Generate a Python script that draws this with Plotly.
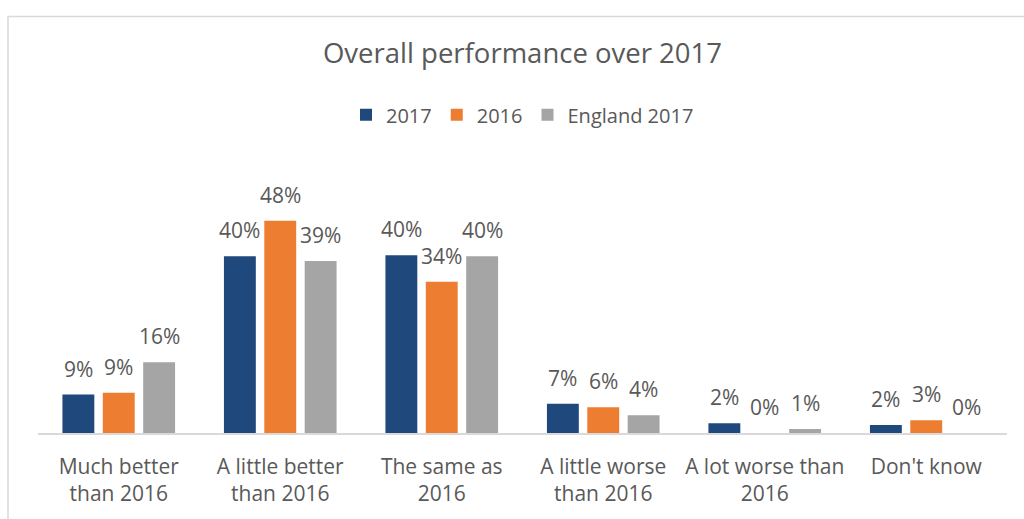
import plotly.graph_objects as go

categories = ["Much better<br>than 2016", "A little better<br>than 2016", "The same as<br>2016",
              "A little worse<br>than 2016", "A lot worse than<br>2016", "Don't know"]
series_names = ["2017", "2016", "England 2017"]
values_2017 = [8.7, 40.0, 40.2, 6.6, 2.2, 1.8]
values_2016 = [9.1, 48.0, 34.2, 5.8, 0.0, 2.9]
values_england = [16.0, 38.9, 40.0, 4.0, 0.9, 0.0]
colors = ["#1F497D", "#ED7D31", "#A5A5A5"]

FONT = "Open Sans"
TXT = "#595959"

all_series = [values_2017, values_2016, values_england]
fig = go.Figure()
for name, vals, col in zip(series_names, all_series, colors):
    fig.add_trace(go.Bar(name=name, x=list(range(len(categories))), y=vals,
                         marker=dict(color=col, line=dict(width=0))))

offsets = [-0.25, 0.0, 0.25]
annotations = []
for vals, off in zip(all_series, offsets):
    for i, v in enumerate(vals):
        annotations.append(dict(x=i + off, y=v, xref="x", yref="y", text=f"{round(v)}%",
                                showarrow=False, yanchor="bottom", yshift=10,
                                font=dict(family=FONT, size=21, color=TXT)))

fig.update_layout(
    width=1024, height=519,
    margin=dict(l=38, r=17, t=212, b=82),
    paper_bgcolor="white", plot_bgcolor="white",
    barmode="group", bargap=0.25, bargroupgap=0.21,
    font=dict(family=FONT, color=TXT),
    title=dict(text="Overall performance over 2017", x=0.5, xref="paper", xanchor="center",
               y=1 - 53 / 519, yref="container", yanchor="middle",
               font=dict(family=FONT, size=27.5, color=TXT)),
    legend=dict(orientation="h", x=0.5, xanchor="center", y=(437 - 113) / 225, yref="paper",
                yanchor="middle", font=dict(family=FONT, size=20, color=TXT),
                itemclick=False, traceorder="normal"),
    annotations=annotations,
    shapes=[dict(type="rect", xref="paper", yref="paper",
                 x0=(8 - 38) / 969, x1=1.2, y0=-1.0, y1=(437 - 13) / 225,
                 line=dict(color="#D9D9D9", width=1.5), layer="below")],
    xaxis=dict(tickmode="array", tickvals=list(range(len(categories))), ticktext=categories,
               range=[-0.5, len(categories) - 0.5], showline=True, linecolor="#D9D9D9",
               linewidth=1.5, showgrid=False, zeroline=False, ticks="",
               tickfont=dict(family=FONT, size=21, color=TXT), ticklabelstandoff=14),
    yaxis=dict(range=[0, 50], visible=False, showgrid=False, zeroline=False),
)

fig.write_html("out.html")
